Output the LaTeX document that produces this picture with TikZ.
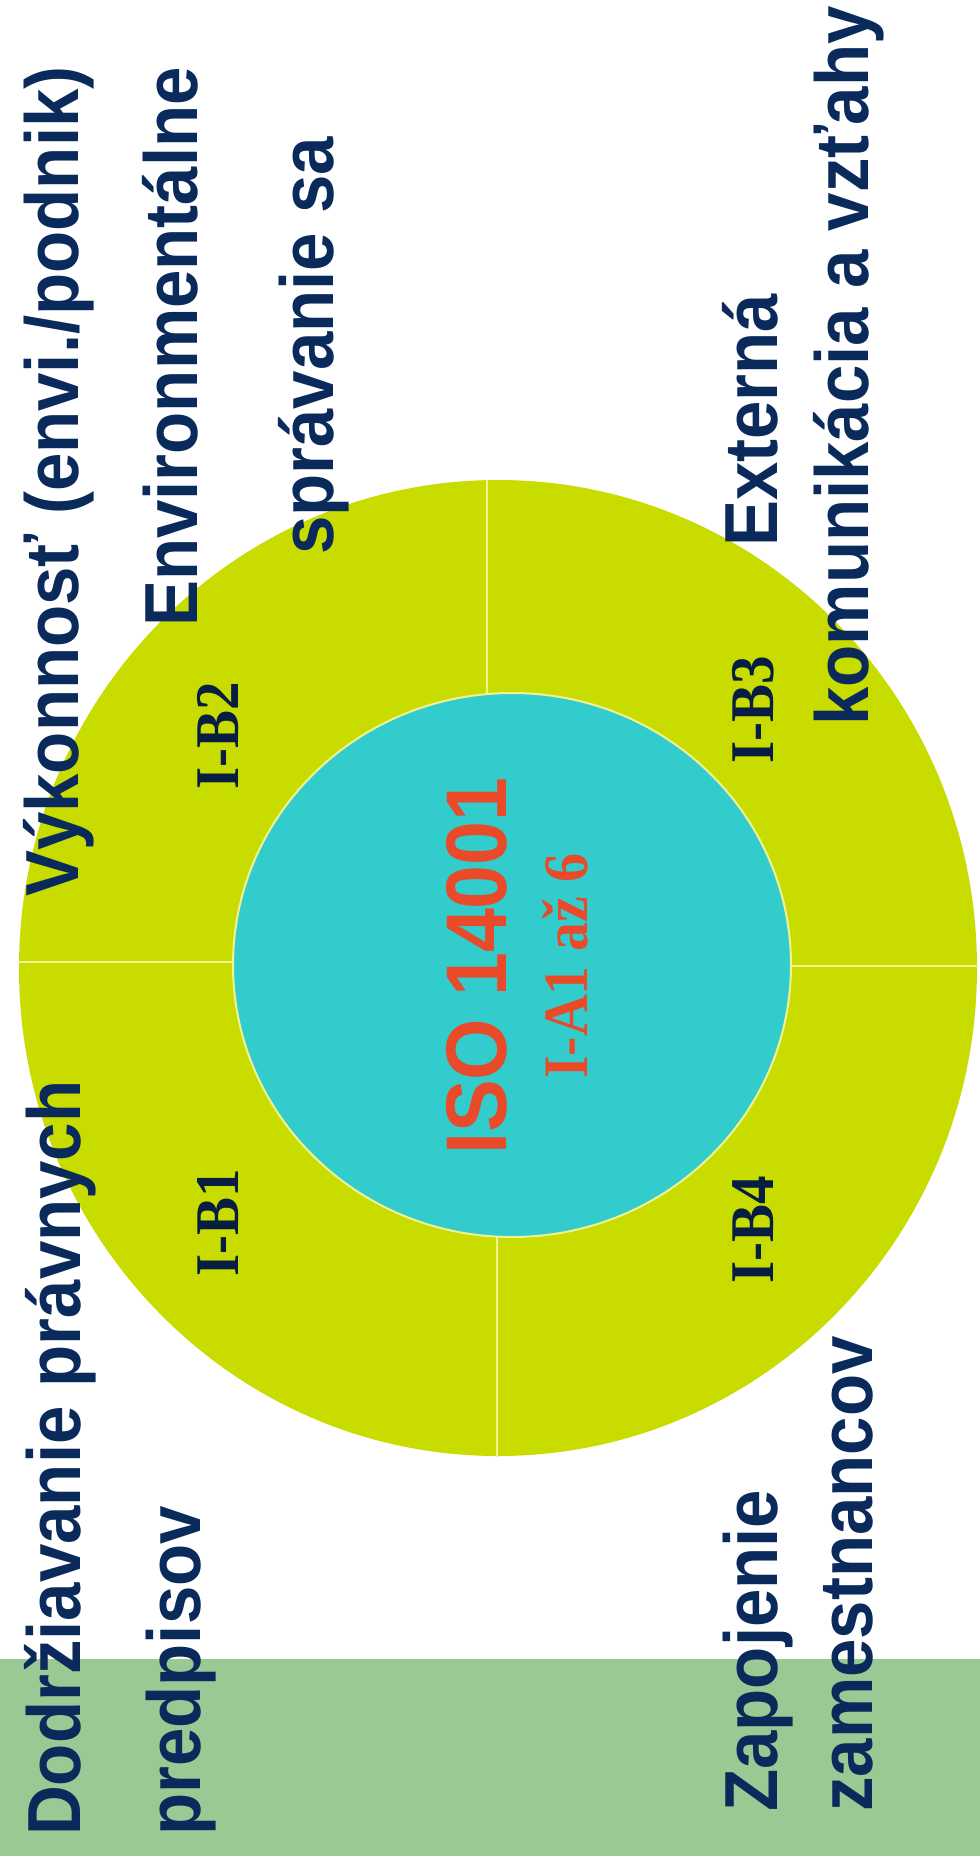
\documentclass[tikz,border=0pt]{standalone}
\usepackage{fontspec}
\setmainfont{Liberation Serif}
\setsansfont{Liberation Sans}
\usetikzlibrary{shapes.geometric}
\definecolor{navy}{RGB}{10,42,92}
\definecolor{lime}{RGB}{200,220,0}
\definecolor{cyanfill}{RGB}{51,204,204}
\definecolor{barg}{RGB}{154,201,148}
\definecolor{isored}{RGB}{232,74,42}
\definecolor{divline}{RGB}{238,244,150}
\newcommand{\vstretch}[1]{\scalebox{1}[1.09]{#1}}
\tikzset{
  lab/.style={rotate=90, anchor=base west, inner sep=0pt, text=navy,
    font=\sffamily\bfseries\fontsize{69}{80}\selectfont},
  blab/.style={rotate=90, anchor=center, inner sep=0pt, text=navy!70!black,
    font=\rmfamily\bfseries\fontsize{57}{60}\selectfont},
  divider/.style={draw=divline, line width=2pt},
}
\begin{document}
\begin{tikzpicture}[x=1pt,y=-1pt]
\useasboundingbox (0,0) rectangle (980,1856);
\fill[white] (0,0) rectangle (980,1856);
\fill[barg] (0,1659) rectangle (980,1856);
% circles
\fill[lime] (498,968) ellipse [x radius=479, y radius=488];
\coordinate (t1) at (487,480);
\coordinate (t2) at (487,700);
\coordinate (b1) at (497,1230);
\coordinate (b2) at (497,1457);
\coordinate (l1) at (19,962);
\coordinate (l2) at (240,962);
\coordinate (r1) at (785,966);
\coordinate (r2) at (978,966);
\draw[divider] (t1) -- (t2);
\draw[divider] (b1) -- (b2);
\draw[divider] (l1) -- (l2);
\draw[divider] (r1) -- (r2);
\filldraw[fill=cyanfill, draw=divline, line width=2pt] (512,965) ellipse [x radius=279, y radius=272];
% outer texts
\node[lab] (vyk) at (78,897) {\vstretch{Výkonnosť (envi./podnik)}};
\node[lab] (dod) at (80,1836) {\vstretch{Dodržiavanie právnych}};
\node[lab] (env) at (197,627) {\vstretch{Environmentálne}};
\node[lab] (pre) at (200,1836) {\vstretch{predpisov}};
\node[lab] (spr) at (333,555) {\vstretch{správanie sa}};
\node[lab] (ext) at (777,547) {\vstretch{Externá}};
\node[lab] (zap) at (777,1812) {\vstretch{Zapojenie}};
\node[lab] (kom) at (868,726) {\vstretch{komunikácia a vzťahy}};
\node[lab] (zam) at (872,1812) {\vstretch{zamestnancov}};
% segment labels
\node[blab] (b2l) at (218,736) {\vstretch{I-B2}};
\node[blab] (b1l) at (218,1223) {\vstretch{I-B1}};
\node[blab] (b3l) at (753,710) {\vstretch{I-B3}};
\node[blab] (b4l) at (753,1230) {\vstretch{I-B4}};
% centre
\node[rotate=90, anchor=base, inner sep=0pt, text=isored,
  font=\sffamily\bfseries\fontsize{79}{85}\selectfont] (iso) at (506,966) {\vstretch{ISO 14001}};
\node[rotate=90, anchor=base, inner sep=0pt, text=isored,
  font=\rmfamily\bfseries\fontsize{58}{60}\selectfont] (ia) at (587,966) {\vstretch{I-A1 až 6}};
\end{tikzpicture}
\end{document}
